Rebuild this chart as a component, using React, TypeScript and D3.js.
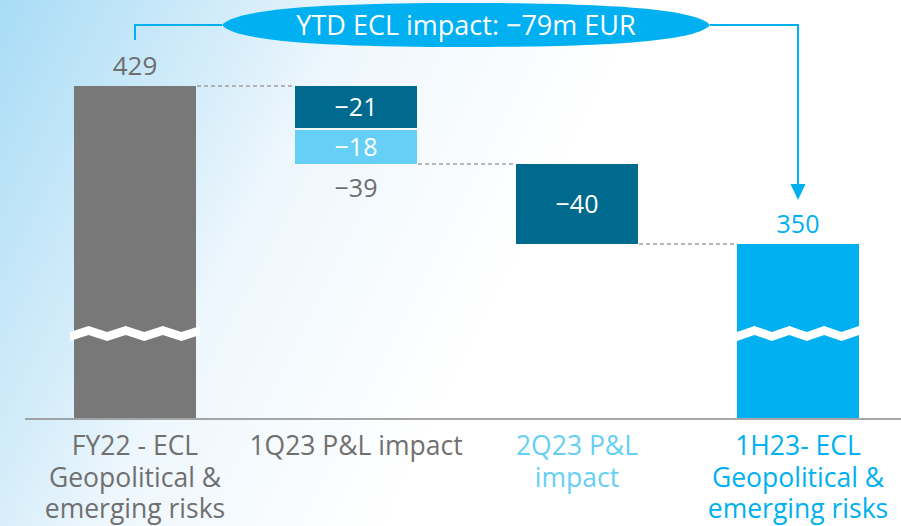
import React from "react";
import * as d3 from "d3";

const categories: string[][] = [
  ["FY22 - ECL", "Geopolitical &", "emerging risks"],
  ["1Q23 P&L impact"],
  ["2Q23 P&L", "impact"],
  ["1H23- ECL", "Geopolitical &", "emerging risks"],
];
const startValue = 429;
const q1Parts = [-21, -18];
const q1Total = -39;
const q2Parts = [-40];
const endValue = 350;
const ytdLabel = "YTD ECL impact: -79m EUR";
const labelColors = ["#707070", "#707070", "#66cff5", "#00b0f0"];

const W = 901;
const H = 526;
const FONT = "'Open Sans', Lato, sans-serif";

function zigzag(x0: number, x1: number, yTop: number, amp: number, thick: number, period: number) {
  const pts: [number, number][] = [];
  const n = Math.round((x1 - x0) / (period / 2));
  const step = (x1 - x0) / n;
  for (let i = 0; i <= n; i++) {
    pts.push([x0 + i * step, yTop + (i % 2 === 0 ? amp : 0)]);
  }
  const bottom = pts.slice().reverse().map(([x, y]) => [x, y + thick] as [number, number]);
  return d3.line()([...pts, ...bottom]) + "Z";
}

export default function App() {
  const x = d3
    .scaleBand<number>()
    .domain([0, 1, 2, 3])
    .range([24.5, 908.5])
    .paddingInner(0.448)
    .paddingOuter(0.224);
  const y = d3.scaleLinear().domain([263, 429]).range([418, 86]);
  const bw = x.bandwidth();
  const cx = (i: number) => (x(i) as number) + bw / 2;

  const segs: { i: number; from: number; to: number; color: string; label: string }[] = [];
  let level = startValue;
  q1Parts.forEach((v, k) => {
    segs.push({ i: 1, from: level, to: level + v, color: k === 0 ? "#006a8e" : "#66cff5", label: String(v) });
    level += v;
  });
  const afterQ1 = level;
  q2Parts.forEach((v) => {
    segs.push({ i: 2, from: level, to: level + v, color: "#006a8e", label: String(v) });
    level += v;
  });
  const afterQ2 = level;

  const baseY = y(263);
  const breakY = 326;

  const ellipseL = 222, ellipseR = 710, ellipseCy = 25, mid = (ellipseL + ellipseR) / 2;
  const ellipsePath = `M${ellipseL},${ellipseCy} C${ellipseL + 14},8 ${ellipseL + 110},3 ${mid},3 C${ellipseR - 110},3 ${ellipseR - 14},8 ${ellipseR},${ellipseCy} C${ellipseR - 14},42 ${ellipseR - 110},47 ${mid},47 C${ellipseL + 110},47 ${ellipseL + 14},42 ${ellipseL},${ellipseCy} Z`;

  const connectors = [
    { x1: (x(0) as number) + bw + 1, x2: x(1) as number, v: startValue },
    { x1: (x(1) as number) + bw + 1, x2: x(2) as number, v: afterQ1 },
    { x1: (x(2) as number) + bw + 1, x2: x(3) as number, v: afterQ2 },
  ];

  return (
    <svg width={W} height={H} style={{ position: "absolute", left: 0, top: 0 }} fontFamily={FONT}>
      <defs>
        <linearGradient id="bg" gradientUnits="userSpaceOnUse" x1={0} y1={0} x2={520} y2={260}>
          <stop offset="0" stopColor="#a8dcf6" />
          <stop offset="0.4" stopColor="#d8eefa" />
          <stop offset="0.56" stopColor="#eef7fd" />
          <stop offset="1" stopColor="#ffffff" />
        </linearGradient>
      </defs>
      <rect x={0} y={0} width={W} height={H} fill="url(#bg)" />

      <line x1={25} x2={W} y1={baseY + 1} y2={baseY + 1} stroke="#8a8a8a" strokeWidth={1.5} />

      {connectors.map((c, k) => (
        <line key={k} x1={c.x1} x2={c.x2} y1={y(c.v)} y2={y(c.v)} stroke="#a0a0a0" strokeWidth={1.3} strokeDasharray="4,3" />
      ))}

      <rect x={x(0)} y={y(startValue)} width={bw} height={baseY - y(startValue)} fill="#787878" />
      <path d={zigzag((x(0) as number) - 4, (x(0) as number) + bw + 4, breakY, 6, 9, 35)} fill="#fff" />

      <rect x={x(3)} y={y(endValue)} width={bw} height={baseY - y(endValue)} fill="#00b0f0" />
      <path d={zigzag(x(3) as number, (x(3) as number) + bw, breakY, 6, 9, 35)} fill="#fff" />

      {segs.map((s, k) => {
        const top = y(s.from) + (k === 1 ? 2 : 0);
        const bot = y(s.to);
        return (
          <g key={k}>
            <rect x={x(s.i)} y={top} width={bw} height={bot - top} fill={s.color} />
            <text x={cx(s.i)} y={(top + bot) / 2 + 9} textAnchor="middle" fill="#fff" fontSize={25}>
              {s.label.replace("-", "\u2212")}
            </text>
          </g>
        );
      })}

      <text x={cx(0)} y={75} textAnchor="middle" fill="#6e6e6e" fontSize={26}>{startValue}</text>
      <text x={cx(1)} y={197} textAnchor="middle" fill="#6e6e6e" fontSize={25}>{String(q1Total).replace("-", "\u2212")}</text>
      <text x={cx(3)} y={233} textAnchor="middle" fill="#00b0f0" fontSize={25}>{endValue}</text>

      <polyline points={`${cx(0)},40 ${cx(0)},${ellipseCy} ${ellipseL},${ellipseCy}`} fill="none" stroke="#00b0f0" strokeWidth={2} />
      <polyline points={`${ellipseR},${ellipseCy} ${cx(3)},${ellipseCy} ${cx(3)},186`} fill="none" stroke="#00b0f0" strokeWidth={2} />
      <path d={`M${cx(3) - 7.5},184 L${cx(3) + 7.5},184 L${cx(3)},200 Z`} fill="#00b0f0" />
      <path d={ellipsePath} fill="#00b0f0" />
      <text x={mid} y={35} textAnchor="middle" fill="#fff" fontSize={27}>{ytdLabel.replace("-", "\u2212")}</text>

      {categories.map((lines, i) => (
        <text key={i} x={cx(i)} textAnchor="middle" fill={labelColors[i]} fontSize={26.5}>
          {lines.map((l, j) => (
            <tspan key={j} x={cx(i)} y={455 + j * 31.5}>{l}</tspan>
          ))}
        </text>
      ))}
    </svg>
  );
}
